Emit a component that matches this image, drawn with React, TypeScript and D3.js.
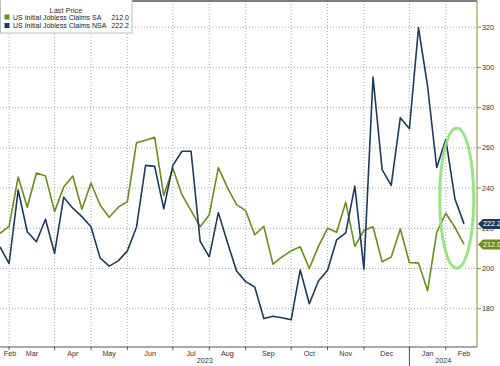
import React from 'react'
import * as d3 from 'd3'

// week-ending dates of the weekly claims prints
const weeks = [
  '2023-02-18', '2023-02-25', '2023-03-04', '2023-03-11', '2023-03-18', '2023-03-25',
  '2023-04-01', '2023-04-08', '2023-04-15', '2023-04-22', '2023-04-29',
  '2023-05-06', '2023-05-13', '2023-05-20', '2023-05-27',
  '2023-06-03', '2023-06-10', '2023-06-17', '2023-06-24',
  '2023-07-01', '2023-07-08', '2023-07-15', '2023-07-22', '2023-07-29',
  '2023-08-05', '2023-08-12', '2023-08-19', '2023-08-26',
  '2023-09-02', '2023-09-09', '2023-09-16', '2023-09-23', '2023-09-30',
  '2023-10-07', '2023-10-14', '2023-10-21', '2023-10-28',
  '2023-11-04', '2023-11-11', '2023-11-18', '2023-11-25',
  '2023-12-02', '2023-12-09', '2023-12-16', '2023-12-23', '2023-12-30',
  '2024-01-06', '2024-01-13', '2024-01-20', '2024-01-27',
  '2024-02-03', '2024-02-10',
]

// seasonally adjusted (thousands)
const claimsSA = [
  217.5, 221, 245.5, 230.5, 247.5, 246, 228.3, 240.5, 246, 229.5, 242.5, 231.6, 225.5,
  230.5, 233.3, 262.5, 263.8, 265.2, 236.3, 249.7, 236.7, 228.8, 220.8, 226.7, 250.2,
  240.2, 231.8, 228.8, 216.8, 221, 202.2, 205.8, 208.8, 210.8, 200, 211, 220, 218,
  233, 211, 219, 220.8, 203.3, 205.7, 219.7, 203, 202.7, 189, 218, 227.5, 220.5, 212.0,
]

// not seasonally adjusted (thousands)
const claimsNSA = [
  210.8, 202.5, 239, 218.3, 213.3, 224.5, 207.5, 235.5, 230, 225.8, 220.8, 205.3, 201.2,
  203.8, 208.8, 220.5, 251.3, 250.8, 229.7, 251.3, 258.3, 258.3, 213.5, 205.8, 227.8,
  213, 198.8, 193.5, 190.8, 175.2, 176.3, 175.5, 174.5, 199.3, 182.5, 193.8, 199.2,
  214.2, 217.7, 241, 199.7, 295.2, 249.2, 241.3, 275, 269.5, 319.7, 290.5, 250.2,
  264.2, 234.7, 222.2,
]

const seriesNames = ['US Initial Jobless Claims SA', 'US Initial Jobless Claims NSA']
const lastValues = ['212.0', '222.2']
const yTicks = [180, 200, 220, 240, 260, 280, 300, 320]
const years = ['2023', '2024']

const GREEN = '#6b8c1e'
const BLUE = '#1d3a5c'
const FONT = '"Liberation Sans", Arial, sans-serif'

const parse = d3.timeParse('%Y-%m-%d')

export default function App() {
  const W = 500
  const H = 366
  const left = 0
  const right = 477
  const top = 1
  const bottom = 347

  const dates = weeks.map(d => parse(d) as Date)
  const first = dates[0]
  // weekly axis: a calendar date sits on the last print on or before it
  const weekIndex = (d: Date) => Math.floor(d3.timeDay.count(first, d) / 7)

  const x = d3.scaleLinear().domain([0, dates.length - 1]).range([left, 464])
  const y = d3.scaleLinear().domain([161, 333]).range([bottom, top])

  const line = d3.line<number>()
    .x((_, i) => x(i))
    .y(v => y(v))

  const months = d3.timeMonth.range(new Date(2023, 1, 1), new Date(2024, 2, 2))
  const fmt = d3.timeFormat('%b')
  const monthX = months.map(m => x(weekIndex(m)))
  const grid = monthX.slice(1, -1)
  const labels = months.slice(0, -1).map((m, i) => ({
    text: fmt(m),
    cx: Math.max((monthX[i] + monthX[i + 1]) / 2, 10),
  }))
  const yearX = x(weekIndex(new Date(2024, 0, 1)))

  const badges = [
    { v: claimsNSA[claimsNSA.length - 1], text: lastValues[1], color: BLUE },
    { v: claimsSA[claimsSA.length - 1], text: lastValues[0], color: GREEN },
  ]

  return (
    <svg width={W} height={H} style={{ position: 'absolute', left: 0, top: 0, background: '#fff' }}
      fontFamily={FONT}>
      {/* horizontal grid */}
      {yTicks.map(t => (
        <line key={'h' + t} x1={left} x2={right} y1={y(t)} y2={y(t)}
          stroke="#a8a8a8" strokeWidth={1} strokeDasharray="1,2" />
      ))}
      {/* vertical grid at month starts */}
      {grid.map((gx, i) => (
        <line key={'v' + i} x1={gx} x2={gx} y1={top} y2={bottom}
          stroke="#a8a8a8" strokeWidth={1} strokeDasharray="1,2" />
      ))}

      <line x1={left} x2={right} y1={top} y2={top} stroke="#555" strokeWidth={1.5} />

      <path d={line(claimsSA) || ''} fill="none" stroke={GREEN} strokeWidth={1.6} strokeLinejoin="round" />
      <path d={line(claimsNSA) || ''} fill="none" stroke={BLUE} strokeWidth={1.6} strokeLinejoin="round" />

      {/* highlight */}
      <ellipse cx={x(50.2)} cy={y(235)} rx={17} ry={70} fill="none" stroke="#8fe07a" strokeWidth={3} opacity={0.9} />

      {/* right axis */}
      <line x1={right} x2={right} y1={top} y2={bottom} stroke="#8c8c3a" strokeWidth={1} />
      {yTicks.map(t => (
        <g key={'yt' + t}>
          <line x1={right} x2={right + 4} y1={y(t)} y2={y(t)} stroke="#8c8c3a" />
          <text x={482} y={y(t) + 2.5} fontSize={7.2} fill="#333">{t}</text>
        </g>
      ))}

      {/* bottom axis */}
      <line x1={left} x2={right} y1={bottom} y2={bottom} stroke="#555" strokeWidth={1} />
      {grid.map((gx, i) => (
        <line key={'xt' + i} x1={gx} x2={gx} y1={bottom} y2={bottom + 3} stroke="#555" />
      ))}
      {labels.map((l, i) => (
        <text key={'m' + i} x={l.cx} y={356} fontSize={7.2} fill="#333" textAnchor="middle">{l.text}</text>
      ))}
      <line x1={yearX} x2={yearX} y1={bottom} y2={H} stroke="#555" />
      <text x={(left + yearX) / 2} y={363} fontSize={7.2} fill="#333" textAnchor="middle">{years[0]}</text>
      <text x={(yearX + right) / 2} y={363} fontSize={7.2} fill="#333" textAnchor="middle">{years[1]}</text>

      {/* last value badges */}
      {badges.map(b => (
        <g key={b.text}>
          <path d={`M${right + 1},${y(b.v)} L${right + 6},${y(b.v) - 5} L${W},${y(b.v) - 5} L${W},${y(b.v) + 5} L${right + 6},${y(b.v) + 5} Z`}
            fill={b.color} />
          <text x={483} y={y(b.v) + 2.6} fontSize={7.2} fill="#fff">{b.text}</text>
        </g>
      ))}

      {/* legend */}
      <rect x={0.5} y={-1} width={131.5} height={34} fill="#fff" stroke="#bdbdbd" />
      <text x={66} y={12.5} fontSize={7.4} fill="#333" textAnchor="middle">Last Price</text>
      {seriesNames.map((s, i) => (
        <g key={s}>
          <rect x={4.5} y={14.5 + i * 8.5} width={5} height={5} fill={i === 0 ? GREEN : BLUE} />
          <text x={13} y={19.5 + i * 8.5} fontSize={7} fill="#222">{s}</text>
          <text x={129} y={19.5 + i * 8.5} fontSize={7} fill="#222" textAnchor="end">{lastValues[i]}</text>
        </g>
      ))}
    </svg>
  )
}
